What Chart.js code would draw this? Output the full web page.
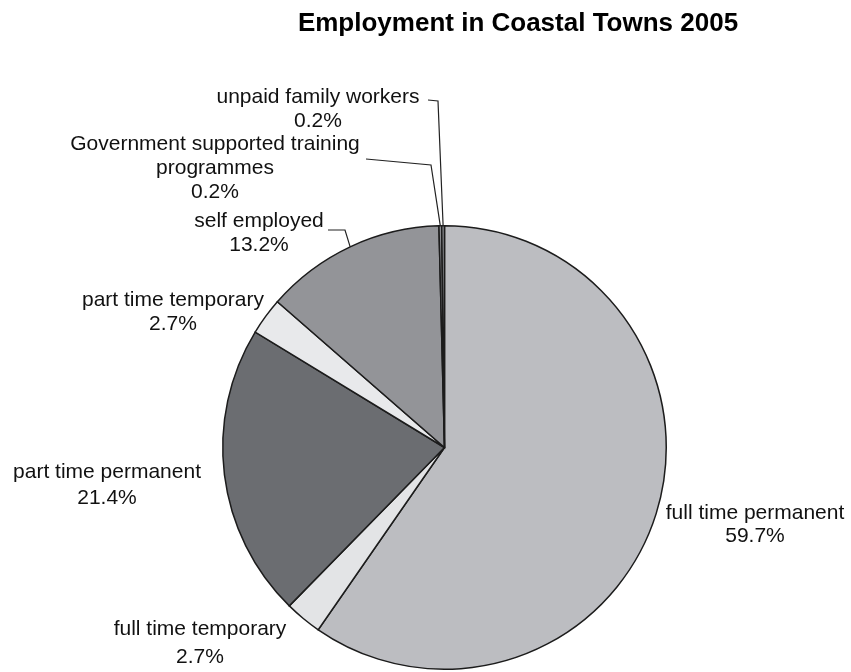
<!DOCTYPE html>
<html>
<head>
<meta charset="utf-8">
<script src="https://cdn.jsdelivr.net/npm/chart.js@4.4.0/dist/chart.umd.min.js"></script>
<style>
  html, body { margin: 0; padding: 0; background: #ffffff; }
  #wrap { width: 851px; height: 672px; }
</style>
</head>
<body>
<div id="wrap"><canvas id="c" width="851" height="672"></canvas></div>
<script>
// Employment categories, clockwise from 12 o'clock
const categories = [
  'full time permanent',
  'full time temporary',
  'part time permanent',
  'part time temporary',
  'self employed',
  'Government supported training programmes',
  'unpaid family workers'
];
const shares = [59.7, 2.7, 21.4, 2.7, 13.2, 0.2, 0.2];
const sliceColors = ['#bcbdc1', '#e3e4e6', '#6b6d71', '#e8e9eb', '#939498', '#8a8b8f', '#8a8b8f'];
const chartTitle = 'Employment in Coastal Towns 2005';

// Label text lines per slice (name wrapped, then the share)
const labelLines = [
  ['full time permanent'],
  ['full time temporary'],
  ['part time permanent'],
  ['part time temporary'],
  ['self employed'],
  ['Government supported training', 'programmes'],
  ['unpaid family workers']
];

// Where each label block sits and how its leader line bends
const labelLayout = [
  { x: 755, y: 513, lh: 23 },
  { x: 200, y: 629, lh: 28 },
  { x: 107, y: 472, lh: 26 },
  { x: 173, y: 300, lh: 24 },
  { x: 259, y: 221, lh: 24, leader: [[345, 230], [328, 230]] },
  { x: 215, y: 144, lh: 24, leader: [[431, 165], [366, 159]] },
  { x: 318, y: 97,  lh: 24, leader: [[438, 101], [428, 100]] }
];

const FONT = '"Liberation Sans", Arial, sans-serif';

const labelPlugin = {
  id: 'sliceLabels',
  afterDatasetsDraw(chart) {
    const ctx = chart.ctx;
    const meta = chart.getDatasetMeta(0);
    ctx.save();
    meta.data.forEach((arc, i) => {
      const p = arc.getProps(['x', 'y', 'startAngle', 'endAngle', 'outerRadius'], true);
      const lay = labelLayout[i];
      if (lay.leader) {
        const mid = (p.startAngle + p.endAngle) / 2;
        const sx = p.x + Math.cos(mid) * p.outerRadius;
        const sy = p.y + Math.sin(mid) * p.outerRadius;
        ctx.beginPath();
        ctx.moveTo(sx, sy);
        lay.leader.forEach(pt => ctx.lineTo(pt[0], pt[1]));
        ctx.strokeStyle = '#222';
        ctx.lineWidth = 1.2;
        ctx.stroke();
      }
      const lines = labelLines[i].concat([shares[i].toFixed(1) + '%']);
      ctx.fillStyle = '#111';
      ctx.font = '21px ' + FONT;
      ctx.textAlign = 'center';
      ctx.textBaseline = 'middle';
      lines.forEach((t, k) => ctx.fillText(t, lay.x, lay.y + k * lay.lh));
    });
    ctx.restore();
  }
};

const titlePlugin = {
  id: 'topTitle',
  afterDraw(chart) {
    const ctx = chart.ctx;
    ctx.save();
    ctx.fillStyle = '#000';
    ctx.font = 'bold 26px ' + FONT;
    ctx.textAlign = 'center';
    ctx.textBaseline = 'middle';
    ctx.fillText(chartTitle, 518, 24);
    ctx.restore();
  }
};

new Chart(document.getElementById('c'), {
  type: 'pie',
  data: {
    labels: categories,
    datasets: [{
      data: shares,
      backgroundColor: sliceColors,
      borderColor: '#1c1c1c',
      borderWidth: 1.5,
      borderJoinStyle: 'miter'
    }]
  },
  options: {
    responsive: false,
    animation: false,
    rotation: 0,
    layout: { padding: { top: 225, bottom: 2, left: 222, right: 184 } },
    plugins: {
      legend: { display: false },
      tooltip: { enabled: false },
      title: { display: false }
    }
  },
  plugins: [labelPlugin, titlePlugin]
});
</script>
</body>
</html>
